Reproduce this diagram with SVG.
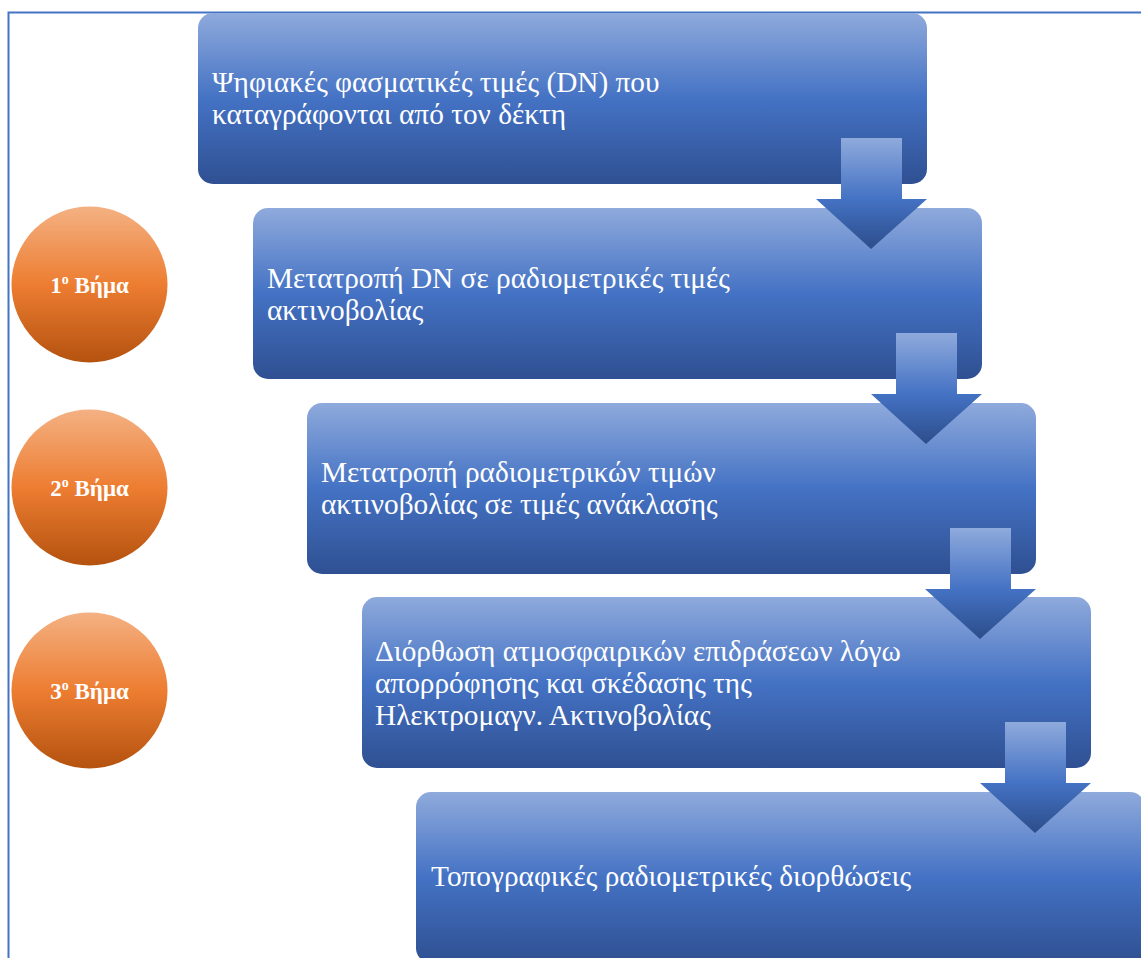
<svg xmlns="http://www.w3.org/2000/svg" width="1141" height="958" viewBox="0 0 1141 958">
<defs>
<linearGradient id="boxG" x1="0" y1="0" x2="0" y2="1">
<stop offset="0" stop-color="#8FAADC"/>
<stop offset="0.5" stop-color="#4472C4"/>
<stop offset="1" stop-color="#2F5092"/>
</linearGradient>
<linearGradient id="arrG" x1="0" y1="0" x2="0" y2="1">
<stop offset="0" stop-color="#8FAADC"/>
<stop offset="0.55" stop-color="#4472C4"/>
<stop offset="1" stop-color="#2C4D8A"/>
</linearGradient>
<linearGradient id="cirG" x1="0" y1="0" x2="0" y2="1">
<stop offset="0" stop-color="#F4B183"/>
<stop offset="0.5" stop-color="#ED7D31"/>
<stop offset="1" stop-color="#B4520F"/>
</linearGradient>
</defs>
<style>
.box{fill:url(#boxG);}
.arr{fill:url(#arrG);}
.cir{fill:url(#cirG);}
.t{font-family:"Liberation Serif","Times New Roman",serif;font-size:29.3px;fill:#FFFFFF;}
.ct{font-family:"Liberation Serif","Times New Roman",serif;font-size:23px;font-weight:bold;fill:#FFFFFF;}
.frame{fill:none;stroke:#4472C4;stroke-width:2;}
</style>
<rect class="frame" x="8.5" y="12.5" width="1200" height="1000"/>
<g id="step1">
<circle class="cir" cx="89.5" cy="284.5" r="78"/>
<text class="ct" x="89.5" y="293" text-anchor="middle">1<tspan font-size="14" dy="-9">ο</tspan><tspan dy="9"> Βήμα</tspan></text>
</g>
<g id="step2">
<circle class="cir" cx="89.5" cy="487.5" r="78"/>
<text class="ct" x="89.5" y="496" text-anchor="middle">2<tspan font-size="14" dy="-9">ο</tspan><tspan dy="9"> Βήμα</tspan></text>
</g>
<g id="step3">
<circle class="cir" cx="89.5" cy="690.5" r="78"/>
<text class="ct" x="89.5" y="699" text-anchor="middle">3<tspan font-size="14" dy="-9">ο</tspan><tspan dy="9"> Βήμα</tspan></text>
</g>
<g id="box1">
<rect class="box" x="198" y="13" width="729" height="171" rx="15"/>
<text class="t" x="212" y="92">Ψηφιακές φασματικές τιμές (DN) που</text>
<text class="t" x="212" y="124">καταγράφονται από τον δέκτη</text>
</g>
<g id="box2">
<rect class="box" x="253" y="208" width="729" height="171" rx="15"/>
<text class="t" x="267" y="288">Μετατροπή DN σε ραδιομετρικές τιμές</text>
<text class="t" x="267" y="320">ακτινοβολίας</text>
</g>
<g id="box3">
<rect class="box" x="307" y="403" width="729" height="171" rx="15"/>
<text class="t" x="321" y="482">Μετατροπή ραδιομετρικών τιμών</text>
<text class="t" x="321" y="514">ακτινοβολίας σε τιμές ανάκλασης</text>
</g>
<g id="box4">
<rect class="box" x="362" y="597" width="729" height="171" rx="15"/>
<text class="t" x="375" y="661">Διόρθωση ατμοσφαιρικών επιδράσεων λόγω</text>
<text class="t" x="375" y="693">απορρόφησης και σκέδασης της</text>
<text class="t" x="375" y="725">Ηλεκτρομαγν. Ακτινοβολίας</text>
</g>
<g id="box5">
<rect class="box" x="416" y="792" width="729" height="171" rx="15"/>
<text class="t" x="431" y="886">Τοπογραφικές ραδιομετρικές διορθώσεις</text>
</g>
<g id="connectors">
<path class="arr" d="M841,138 H902 V199 H927 L871,249 L816,199 H841 Z"/>
<path class="arr" d="M896,333 H957 V394 H982 L926,444 L871,394 H896 Z"/>
<path class="arr" d="M950,528 H1011 V589 H1036 L980,639 L925,589 H950 Z"/>
<path class="arr" d="M1005,722 H1066 V783 H1091 L1035,833 L980,783 H1005 Z"/>
</g>
</svg>
